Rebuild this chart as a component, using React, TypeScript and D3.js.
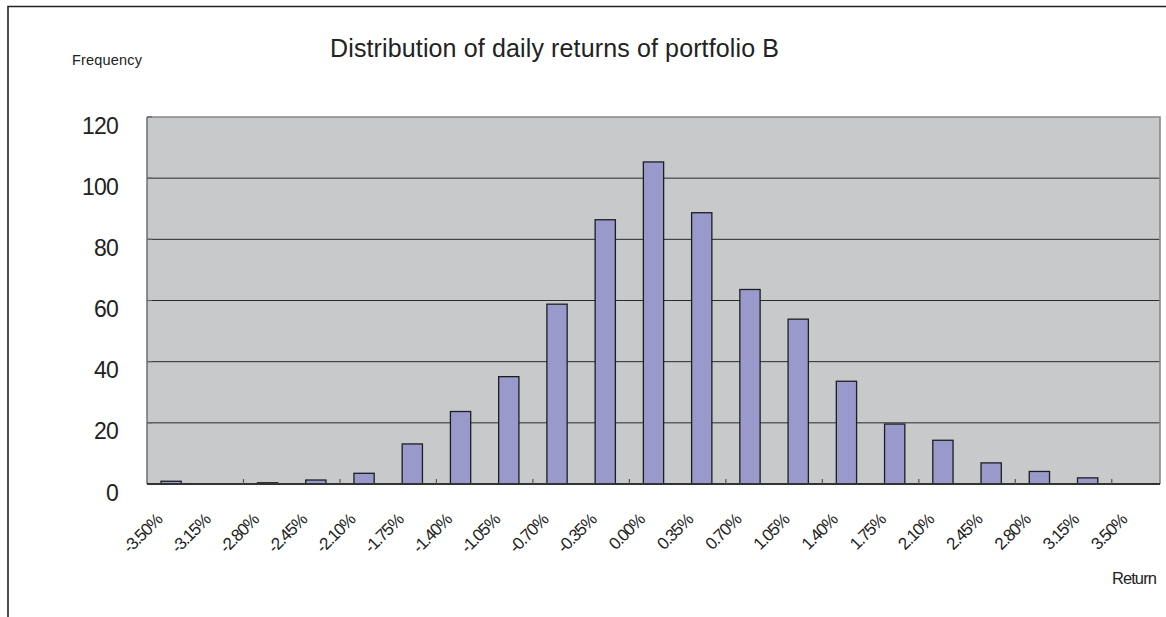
import React from "react";
import * as d3 from "d3";

const categories = ["-3.50%","-3.15%","-2.80%","-2.45%","-2.10%","-1.75%","-1.40%","-1.05%","-0.70%","-0.35%","0.00%","0.35%","0.70%","1.05%","1.40%","1.75%","2.10%","2.45%","2.80%","3.15%","3.50%"];
const frequencies = [0.9, 0, 0.4, 1.3, 3.5, 13.1, 23.7, 35.1, 58.8, 86.4, 105.3, 88.7, 63.6, 53.9, 33.6, 19.6, 14.3, 6.9, 4.1, 2.0, 0];
const yTicks = [0, 20, 40, 60, 80, 100, 120];
const title = "Distribution of daily returns of portfolio B";
const yLabel = "Frequency";
const xLabel = "Return";

const W = 1166, H = 617;
const plot = { left: 147, right: 1160, top: 117, bottom: 484 };
const FONT = "'Liberation Sans', Arial, Helvetica, sans-serif";

export default function App() {
  const x = d3.scaleBand<string>().domain(categories).range([plot.left, plot.right]).padding(0);
  const y = d3.scaleLinear().domain([0, 120]).range([plot.bottom, plot.top]);
  const step = x.step();
  const bw = step * 0.42;
  const tickIdx = d3.range(2, 21, 2);

  return (
    <svg width={W} height={H} style={{ position: "absolute", left: 0, top: 0, background: "#fff" }} fontFamily={FONT}>
      <rect x={0} y={0} width={W} height={H} fill="#fff" />
      {/* outer frame */}
      <path d={`M8,${H + 5} L8,6.5 L${W + 5},6.5`} fill="none" stroke="#222" strokeWidth={1.6} />

      {/* title */}
      <text x={554.5} y={57} textAnchor="middle" fontSize={25} fill="#222" textLength={449} lengthAdjust="spacing">{title}</text>
      <text x={72} y={65} fontSize={14.5} fill="#222" textLength={70} lengthAdjust="spacing">{yLabel}</text>

      {/* plot area */}
      <rect x={plot.left} y={plot.top} width={plot.right - plot.left} height={plot.bottom - plot.top} fill="#C8C9CB" />
      {yTicks.filter(v => v > 0 && v < 120).map(v => (
        <line key={v} x1={plot.left} x2={plot.right} y1={y(v)} y2={y(v)} stroke="#2a2a2a" strokeWidth={1} />
      ))}
      {/* border top/right */}
      <path d={`M${plot.left},${plot.top} L${plot.right},${plot.top} L${plot.right},${plot.bottom}`} fill="none" stroke="#888" strokeWidth={1.6} />
      {/* y axis */}
      <line x1={plot.left} x2={plot.left} y1={plot.top} y2={plot.bottom} stroke="#666" strokeWidth={1.4} />
      {yTicks.map(v => (
        <line key={v} x1={plot.left} x2={plot.left + 5} y1={y(v)} y2={y(v)} stroke="#666" strokeWidth={1.2} />
      ))}

      {/* bars */}
      {categories.map((c, i) => {
        const v = frequencies[i];
        if (v <= 0) return null;
        const x0 = (x(c) as number) + (step - bw) / 2;
        return (
          <rect key={c} x={x0} y={y(v)} width={bw} height={plot.bottom - y(v)} fill="#9999CC" stroke="#1e1e1e" strokeWidth={1.3} />
        );
      })}

      {/* x axis */}
      <line x1={plot.left} x2={plot.right} y1={plot.bottom} y2={plot.bottom} stroke="#333" strokeWidth={1.8} />
      {tickIdx.map(i => {
        const tx = (x(categories[i]) as number);
        return <line key={i} x1={tx} x2={tx} y1={plot.bottom} y2={plot.bottom - 5} stroke="#555" strokeWidth={1.2} />;
      })}

      {/* y labels */}
      {yTicks.map(v => (
        <text key={v} x={118} y={y(v) + 16.5} textAnchor="end" fontSize={23} letterSpacing={-0.8} fill="#222">{v}</text>
      ))}

      {/* x labels */}
      {categories.map(c => {
        const cx = (x(c) as number) + step / 2 - 8;
        const cy = 521;
        return (
          <text key={c} x={cx} y={cy} transform={`rotate(-45 ${cx} ${cy})`} textAnchor="end" fontSize={17} letterSpacing={-1.2} fill="#222">{c}</text>
        );
      })}

      <text x={1156} y={584} textAnchor="end" fontSize={16.5} letterSpacing={-0.9} fill="#222">{xLabel}</text>
    </svg>
  );
}
